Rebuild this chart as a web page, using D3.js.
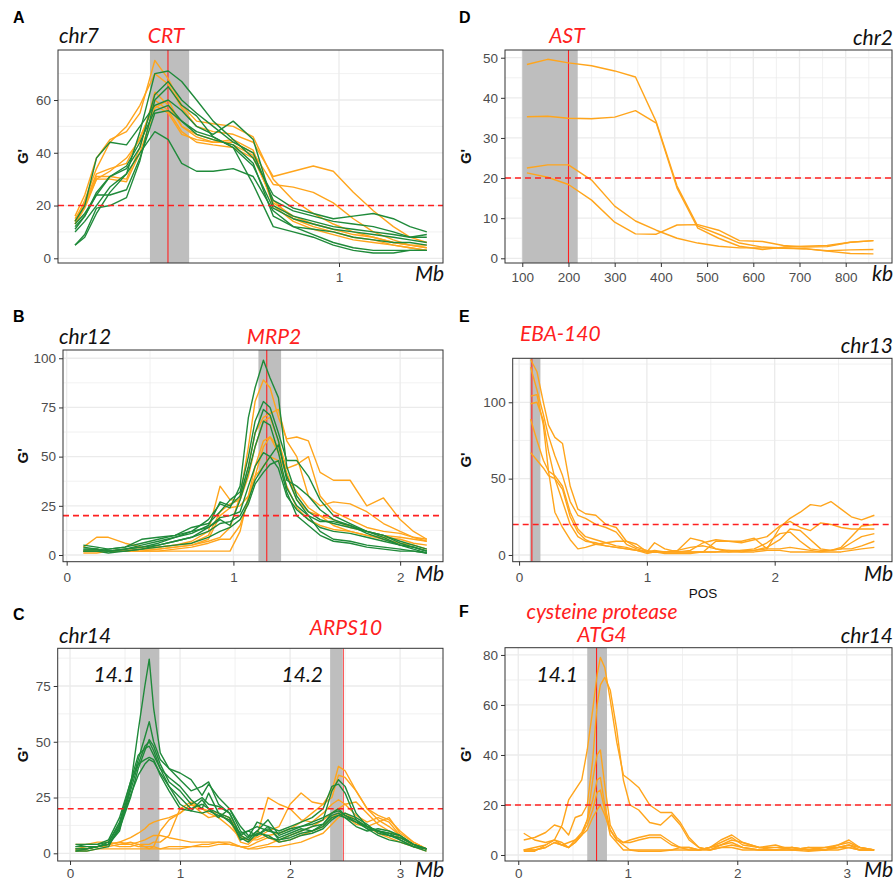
<!DOCTYPE html>
<html>
<head>
<meta charset="utf-8">
<script src="https://cdn.jsdelivr.net/npm/d3@7"></script>
<style>
body { margin: 0; background: #fff; }
.tick-lab { font-family: "Liberation Sans", Arial, sans-serif; font-size: 13.5px; fill: #4d4d4d; }
.ital { font-family: Lato, "Open Sans", sans-serif; font-style: italic; font-size: 21px; }
.letter { font-family: "Liberation Sans", Arial, sans-serif; font-weight: bold; font-size: 16px; }
.ytitle { font-family: "Liberation Sans", Arial, sans-serif; font-weight: bold; font-size: 15px; }
</style>
</head>
<body>
<script>
//---------------- data ----------------
// threshold of G'
var threshold = 20;

// A: chr7, CRT (positions in Mb)
var posA = [0.077, 0.111, 0.152, 0.199, 0.257, 0.304, 0.356, 0.403, 0.450, 0.502, 0.560, 0.630,
            0.700, 0.770, 0.840, 0.910, 0.980, 1.050, 1.120, 1.190, 1.248, 1.307];
var orangeA = [
    [16, 24, 38, 45, 48, 55, 75, 68, 58, 52, 51, 50, 46, 30, 22, 17, 13, 10, 8, 6, 5, 4],
    [14, 22, 34, 44, 50, 58, 70, 66, 57, 50, 48, 47, 44, 31, 33, 35, 33, 25, 18, 12, 8, 6],
    [14, 20, 31, 31, 30, 42, 63, 58, 50, 46, 44, 44, 40, 28, 27, 25, 21, 15, 10, 7, 5, 4],
    [13, 19, 30, 33, 38, 45, 60, 56, 48, 44, 43, 42, 38, 22, 15, 12, 10, 8, 7, 5, 4, 3],
    [15, 21, 32, 34, 36, 46, 58, 55, 47, 45, 44, 45, 41, 20, 14, 11, 9, 7, 6, 5, 4, 3],
    [13, 20, 30, 30, 29, 40, 57, 60, 50, 47, 45, 43, 39, 21, 16, 13, 11, 9, 8, 6, 5, 5]
];
var greenA = [
    [5, 8, 17, 25, 32, 48, 70, 71, 67, 60, 52, 45, 38, 24, 19, 17, 15, 16, 17, 15, 12, 10],
    [11, 16, 25, 31, 34, 42, 62, 67, 60, 55, 50, 44, 40, 22, 18, 16, 14, 13, 12, 10, 8, 8],
    [14, 20, 38, 44, 43, 50, 58, 60, 56, 50, 47, 52, 45, 20, 16, 14, 12, 11, 10, 9, 8, 9],
    [12, 16, 24, 24, 26, 38, 55, 56, 52, 47, 45, 43, 36, 16, 12, 11, 10, 8, 7, 6, 6, 5],
    [10, 14, 20, 27, 32, 40, 48, 45, 36, 33, 33, 34, 31, 18, 12, 9, 6, 4, 3, 3, 3, 3],
    [13, 17, 24, 31, 35, 44, 56, 58, 52, 48, 46, 42, 35, 19, 15, 13, 11, 10, 9, 8, 7, 6],
    [5, 9, 19, 20, 23, 37, 60, 65, 58, 54, 46, 42, 28, 12, 10, 8, 5, 3, 2, 2, 3, 3]
];
var xTicksA = [1], yTicksA = [0, 20, 40, 60];

// D: chr2, AST (positions in kb)
var posD = [110, 155, 200, 250, 300, 345, 390, 435, 480, 525, 570, 620, 665, 710, 760, 810, 860];
var orangeD = [
    [48.3, 49.6, 48.7, 48.0, 46.7, 45.2, 34.0, 18.0, 8.0, 6.0, 3.8, 2.8, 2.6, 2.4, 1.8, 1.2, 1.1],
    [35.3, 35.4, 34.9, 34.8, 35.2, 36.8, 33.7, 17.5, 7.5, 5.0, 3.0, 2.2, 2.8, 3.0, 3.2, 4.0, 4.4],
    [22.5, 23.3, 23.3, 19.5, 13.0, 9.3, 7.0, 5.0, 3.8, 3.0, 2.6, 2.6, 2.5, 2.4, 1.9, 2.1, 2.2],
    [21.3, 20.2, 18.4, 14.5, 9.0, 6.1, 6.0, 8.3, 8.4, 7.0, 4.4, 4.2, 3.2, 2.8, 2.9, 4.0, 4.4]
];
var xTicksD = [100, 200, 300, 400, 500, 600, 700, 800], yTicksD = [0, 10, 20, 30, 40, 50];

// B: chr12, MRP2 (Mb)
var posB = [0.10, 0.18, 0.25, 0.35, 0.45, 0.55, 0.65, 0.75, 0.85, 0.92, 0.98, 1.04, 1.09, 1.13,
            1.18, 1.22, 1.27, 1.32, 1.38, 1.45, 1.52, 1.60, 1.70, 1.80, 1.90, 2.00, 2.08, 2.16];
var orangeB = [
    [2, 3, 2, 2, 2, 3, 4, 5, 7, 9, 14, 30, 55, 78, 89, 85, 70, 59, 60, 58, 42, 38, 38, 25, 29, 18, 12, 8],
    [2, 2, 2, 3, 3, 4, 5, 6, 10, 22, 26, 28, 45, 62, 70, 72, 74, 58, 50, 30, 25, 27, 26, 22, 16, 12, 9, 7],
    [4, 9, 9, 6, 4, 4, 5, 7, 12, 35, 28, 28, 40, 55, 68, 70, 58, 44, 46, 50, 30, 22, 18, 14, 12, 11, 9, 8],
    [2, 2, 2, 2, 3, 3, 4, 5, 8, 20, 24, 25, 30, 40, 55, 60, 52, 40, 32, 24, 20, 18, 14, 12, 10, 9, 8, 7],
    [1, 1, 2, 2, 2, 2, 3, 4, 6, 8, 8, 15, 28, 40, 45, 50, 48, 35, 24, 18, 15, 13, 12, 10, 9, 8, 6, 5],
    [2, 2, 2, 2, 2, 2, 2, 2, 2, 2, 2, 12, 30, 45, 58, 60, 55, 42, 28, 22, 20, 15, 12, 10, 8, 6, 5, 3]
];
var greenB = [
    [3, 3, 2, 3, 4, 6, 9, 12, 18, 26, 24, 35, 70, 85, 99, 90, 80, 45, 30, 22, 18, 16, 14, 12, 10, 6, 4, 2],
    [5, 4, 3, 4, 6, 8, 10, 14, 16, 22, 28, 32, 50, 68, 78, 75, 62, 48, 48, 40, 28, 20, 16, 12, 9, 5, 3, 1],
    [4, 3, 2, 3, 5, 7, 9, 11, 15, 27, 25, 30, 45, 62, 74, 71, 58, 38, 35, 30, 23, 18, 15, 11, 8, 5, 4, 2],
    [2, 2, 2, 3, 4, 5, 7, 9, 14, 18, 15, 28, 42, 55, 68, 66, 52, 34, 25, 20, 17, 17, 15, 12, 10, 7, 5, 3],
    [2, 2, 3, 4, 8, 9, 10, 12, 14, 19, 20, 22, 35, 45, 52, 50, 44, 30, 23, 18, 14, 12, 11, 9, 7, 5, 4, 2],
    [3, 3, 2, 2, 3, 5, 7, 9, 12, 16, 17, 20, 28, 38, 45, 50, 56, 40, 28, 20, 12, 8, 7, 5, 4, 3, 2, 1],
    [2, 2, 1, 2, 3, 4, 5, 6, 9, 12, 14, 18, 26, 36, 42, 46, 48, 32, 20, 15, 10, 7, 6, 4, 3, 2, 2, 1]
];
var xTicksB = [0, 1, 2], yTicksB = [0, 25, 50, 75, 100];

// E: chr13, EBA-140 (Mb)
var posE = [0.09, 0.14, 0.19, 0.23, 0.28, 0.34, 0.40, 0.46, 0.52, 0.60, 0.68, 0.76, 0.84, 0.92,
            1.00, 1.06, 1.14, 1.24, 1.34, 1.44, 1.54, 1.64, 1.74, 1.84, 1.94, 2.04, 2.12, 2.20,
            2.28, 2.36, 2.44, 2.52, 2.60, 2.68, 2.78];
var orangeE = [
    [128, 120, 100, 85, 77, 73, 45, 30, 27, 26, 20, 18, 9, 5, 3, 2, 2, 2, 2, 2, 2, 3, 3, 3, 4, 18, 24, 28, 33, 32, 35, 30, 25, 23, 26],
    [123, 108, 92, 78, 65, 52, 35, 26, 24, 20, 18, 15, 7, 4, 2, 8, 4, 2, 3, 8, 10, 9, 8, 10, 12, 19, 22, 18, 16, 21, 20, 18, 17, 17, 17],
    [104, 105, 85, 55, 28, 18, 10, 4, 5, 7, 8, 9, 9, 7, 2, 3, 2, 3, 5, 6, 4, 3, 2, 3, 5, 10, 17, 16, 10, 4, 3, 5, 12, 19, 20],
    [99, 100, 88, 68, 50, 35, 20, 12, 9, 8, 6, 5, 4, 3, 2, 2, 2, 3, 11, 9, 4, 2, 3, 4, 8, 14, 15, 9, 4, 3, 3, 4, 8, 12, 14],
    [89, 75, 62, 55, 52, 45, 28, 17, 12, 10, 8, 6, 5, 3, 2, 2, 2, 2, 2, 2, 9, 9, 9, 11, 4, 4, 5, 4, 3, 2, 3, 4, 4, 6, 9],
    [67, 62, 57, 52, 50, 43, 25, 15, 10, 7, 6, 5, 4, 3, 1, 2, 1, 1, 1, 2, 2, 2, 2, 2, 3, 3, 2, 2, 2, 2, 2, 2, 3, 4, 5]
];
var xTicksE = [0, 1, 2], yTicksE = [0, 50, 100];

// C: chr14, ARPS10 (Mb)
var posC = [0.05, 0.15, 0.25, 0.35, 0.45, 0.55, 0.62, 0.68, 0.72, 0.76, 0.82, 0.90, 1.00, 1.10,
            1.20, 1.26, 1.35, 1.45, 1.55, 1.62, 1.70, 1.80, 1.90, 2.00, 2.10, 2.20, 2.30, 2.38,
            2.44, 2.50, 2.60, 2.70, 2.80, 2.90, 3.00, 3.12, 3.24];
var greenC = [
    [2, 2, 3, 4, 10, 30, 55, 75, 87, 65, 45, 38, 33, 28, 30, 32, 22, 18, 8, 10, 12, 10, 9, 11, 12, 13, 15, 28, 33, 30, 18, 12, 10, 8, 7, 4, 2],
    [4, 4, 4, 5, 13, 30, 42, 52, 59, 50, 42, 38, 36, 33, 26, 31, 25, 20, 10, 7, 14, 12, 10, 12, 14, 16, 20, 30, 31, 27, 15, 11, 10, 9, 8, 4, 2],
    [3, 3, 3, 4, 11, 25, 38, 46, 51, 48, 40, 32, 28, 22, 25, 22, 21, 18, 8, 6, 10, 15, 8, 10, 12, 14, 16, 18, 19, 17, 14, 12, 10, 9, 6, 3, 2],
    [1, 2, 3, 5, 14, 32, 44, 47, 48, 44, 38, 30, 25, 20, 22, 20, 16, 20, 12, 8, 8, 12, 6, 8, 10, 12, 13, 17, 18, 16, 12, 10, 11, 10, 8, 4, 2],
    [3, 4, 4, 6, 16, 32, 40, 42, 43, 42, 35, 28, 20, 19, 24, 20, 18, 14, 9, 10, 8, 11, 7, 9, 11, 10, 12, 16, 17, 18, 16, 13, 9, 8, 7, 4, 2],
    [1, 1, 2, 3, 12, 26, 35, 40, 42, 41, 36, 30, 22, 19, 18, 19, 17, 15, 7, 5, 9, 8, 5, 6, 8, 9, 11, 15, 17, 16, 14, 11, 8, 6, 5, 3, 1],
    [2, 2, 3, 4, 12, 28, 40, 48, 50, 46, 38, 34, 30, 24, 20, 27, 18, 16, 6, 7, 10, 7, 6, 7, 9, 10, 13, 18, 20, 17, 15, 12, 10, 8, 6, 3, 2]
];
var orangeC = [
    [2, 3, 3, 4, 5, 4, 3, 3, 2, 3, 10, 15, 18, 22, 18, 16, 17, 15, 5, 4, 8, 25, 22, 20, 15, 14, 18, 22, 24, 22, 17, 14, 16, 14, 8, 4, 2],
    [2, 2, 3, 4, 3, 3, 4, 4, 4, 5, 5, 8, 20, 23, 20, 19, 18, 16, 8, 6, 7, 10, 12, 22, 27, 23, 22, 28, 39, 37, 28, 20, 15, 12, 8, 3, 2],
    [1, 2, 3, 4, 5, 7, 9, 11, 13, 14, 15, 16, 18, 22, 20, 18, 16, 12, 7, 6, 6, 8, 9, 11, 14, 18, 22, 25, 35, 34, 28, 20, 17, 15, 10, 5, 2],
    [2, 2, 3, 3, 4, 5, 4, 3, 3, 3, 2, 3, 3, 3, 4, 4, 5, 5, 3, 2, 3, 4, 6, 8, 10, 12, 15, 18, 20, 22, 23, 18, 13, 10, 7, 4, 2],
    [4, 4, 5, 5, 4, 4, 5, 6, 7, 8, 8, 7, 6, 5, 5, 5, 5, 4, 3, 3, 5, 7, 5, 6, 8, 10, 12, 16, 18, 17, 13, 12, 14, 16, 9, 5, 2],
    [1, 1, 2, 2, 2, 2, 2, 2, 2, 2, 2, 2, 2, 3, 3, 3, 4, 4, 3, 2, 2, 3, 3, 4, 5, 7, 9, 13, 16, 18, 15, 12, 9, 7, 5, 3, 1]
];
var xTicksC = [0, 1, 2, 3], yTicksC = [0, 25, 50, 75];

// F: chr14, cysteine protease ATG4 (Mb)
var posF = [0.05, 0.15, 0.25, 0.33, 0.40, 0.46, 0.52, 0.58, 0.63, 0.68, 0.72, 0.75, 0.79, 0.84,
            0.90, 0.96, 1.02, 1.10, 1.20, 1.30, 1.40, 1.48, 1.56, 1.65, 1.75, 1.85, 1.95, 2.05,
            2.20, 2.35, 2.50, 2.65, 2.80, 2.92, 3.02, 3.12, 3.25];
var orangeF = [
    [2, 3, 4, 6, 12, 22, 26, 30, 42, 58, 72, 79, 75, 62, 45, 32, 30, 27, 20, 17, 17, 13, 7, 3, 2, 3, 4, 3, 2, 2, 3, 2, 2, 3, 3, 2, 2],
    [6, 7, 9, 12, 11, 8, 15, 16, 20, 38, 60, 68, 71, 66, 50, 30, 20, 18, 13, 12, 16, 12, 6, 3, 2, 4, 6, 5, 3, 2, 2, 3, 3, 3, 4, 2, 2],
    [2, 2, 3, 5, 4, 3, 5, 8, 14, 30, 40, 42, 28, 12, 7, 5, 6, 7, 8, 8, 5, 3, 3, 2, 3, 5, 7, 4, 3, 3, 3, 2, 3, 4, 5, 3, 2],
    [8.7, 6, 5, 6, 4, 3, 6, 9, 14, 22, 30, 31, 20, 10, 6, 5, 5, 6, 7, 7, 4, 3, 2, 2, 3, 6, 8, 5, 3, 4, 2, 3, 2, 4, 6, 3, 2],
    [1.5, 1.5, 4, 6, 5, 3, 5, 8, 12, 18, 25, 26, 18, 8, 5, 2, 2, 2, 2, 2, 2, 3, 3, 2, 3, 4, 5, 3, 2, 2, 3, 2, 2, 3, 4, 3, 2],
    [2, 2, 3, 5, 4, 5, 6, 8, 10, 15, 18, 20, 16, 10, 6, 4, 2, 1.5, 1.5, 1.5, 2, 2, 2, 2, 2, 3, 3, 2, 2, 2, 2, 1.5, 2, 2, 3, 2, 2]
];
var xTicksF = [0, 1, 2, 3], yTicksF = [0, 20, 40, 60, 80];

//---------------- layout ----------------
var ORANGE = "#FFA51C", GREEN = "#1F8A3A", RED = "#FF2020";

var panels = [
    {letter: "A", lx: 13, ly: 23, box: [58, 50, 443, 263], xd: [0.0175, 1.3636], yd: [-1.78, 78.96],
     pos: posA, orange: orangeA, green: greenA, xt: xTicksA, yt: yTicksA, xminor: [], yminor: [10, 30, 50, 70],
     bands: [[0.339, 0.476]], gene: 0.402, tickY: 282, unit: "Mb", unitY: 281, ytx: 23,
     labels: [{t: "chr7", x: 59, y: 43, a: "start", c: "#111"}, {t: "CRT", x: 166, y: 43, a: "middle", c: RED}]},
    {letter: "D", lx: 459, ly: 23, box: [505, 50, 892, 263], xd: [62.6, 900.2], yd: [-1.17, 51.92],
     pos: posD, orange: orangeD, green: [], xt: xTicksD, yt: yTicksD, xminor: [150, 250, 350, 450, 550, 650, 750, 850],
     yminor: [5, 15, 25, 35, 45], bands: [[100, 220]], gene: 200, tickY: 282, unit: "kb", unitY: 281, ytx: 466,
     labels: [{t: "AST", x: 567, y: 43, a: "middle", c: RED}, {t: "chr2", x: 893, y: 45, a: "end", c: "#111"}]},
    {letter: "B", lx: 13, ly: 322, box: [63, 350, 443, 561.7], xd: [-0.022, 2.257], yd: [-3.4, 104.2],
     pos: posB, orange: orangeB, green: greenB, xt: xTicksB, yt: yTicksB, xminor: [0.5, 1.5],
     yminor: [12.5, 37.5, 62.5, 87.5], bands: [[1.15, 1.286]], gene: 1.2, tickY: 582, unit: "Mb", unitY: 581, ytx: 23,
     labels: [{t: "chr12", x: 59, y: 344, a: "start", c: "#111"}, {t: "MRP2", x: 274, y: 344, a: "middle", c: RED}]},
    {letter: "E", lx: 459, ly: 322, box: [512.7, 358.3, 892, 561.7], xd: [-0.05, 2.918], yd: [-4.4, 128.8],
     pos: posE, orange: orangeE, green: [], xt: xTicksE, yt: yTicksE, xminor: [0.5, 1.5, 2.5],
     yminor: [25, 75, 125], bands: [[0.084, 0.167]], gene: 0.1, tickY: 582, unit: "Mb", unitY: 581, ytx: 466,
     labels: [{t: "EBA-140", x: 520, y: 341, a: "start", c: RED}, {t: "chr13", x: 893, y: 353, a: "end", c: "#111"}]},
    {letter: "C", lx: 13, ly: 620, box: [57.7, 648.3, 443, 861], xd: [-0.112, 3.39], yd: [-3.45, 91.9],
     pos: posC, orange: orangeC, green: greenC, xt: xTicksC, yt: yTicksC, xminor: [0.5, 1.5, 2.5],
     yminor: [12.5, 37.5, 62.5, 87.5], bands: [[0.636, 0.812], [2.364, 2.479]], gene: 2.485, geneThin: true,
     tickY: 878, unit: "Mb", unitY: 877, ytx: 23,
     labels: [{t: "chr14", x: 59, y: 643, a: "start", c: "#111"}, {t: "ARPS10", x: 346, y: 635, a: "middle", c: RED},
              {t: "14.1", x: 135, y: 682, a: "end", c: "#111"}, {t: "14.2", x: 323, y: 682, a: "end", c: "#111"}]},
    {letter: "F", lx: 459, ly: 617, box: [505, 647.7, 892, 861], xd: [-0.121, 3.413], yd: [-2.4, 82.9],
     pos: posF, orange: orangeF, green: [], xt: xTicksF, yt: yTicksF, xminor: [0.5, 1.5, 2.5],
     yminor: [10, 30, 50, 70], bands: [[0.63, 0.81]], gene: 0.715, tickY: 878, unit: "Mb", unitY: 877, ytx: 466,
     labels: [{t: "cysteine protease", x: 602, y: 619, a: "middle", c: RED}, {t: "ATG4", x: 602, y: 642, a: "middle", c: RED},
              {t: "chr14", x: 893, y: 643, a: "end", c: "#111"}, {t: "14.1", x: 578, y: 682, a: "end", c: "#111"}]}
];

var svg = d3.select("body").append("svg")
    .attr("width", 896)
    .attr("height", 880);

panels.forEach(drawPanel);

// axis title below panel E
svg.append("text")
    .attr("x", 703).attr("y", 598)
    .attr("text-anchor", "middle")
    .style("font-family", "Liberation Sans, Arial, sans-serif")
    .style("font-size", "13.5px")
    .attr("fill", "#111")
    .text("POS");

function drawPanel(p, k){
    var L = p.box[0], T = p.box[1], R = p.box[2], B = p.box[3];
    var x = d3.scaleLinear().domain(p.xd).range([L, R]);
    var y = d3.scaleLinear().domain(p.yd).range([B, T]);
    var g = svg.append("g").attr("class", "panel-" + p.letter);

    // clip path for the plot area
    svg.append("clipPath").attr("id", "clip" + k)
        .append("rect").attr("x", L).attr("y", T).attr("width", R - L).attr("height", B - T);

    g.append("rect").attr("x", L).attr("y", T).attr("width", R - L).attr("height", B - T).attr("fill", "#fff");

    //grid lines, minor then major
    g.selectAll(".yminor").data(p.yminor).enter().append("line")
        .attr("x1", L).attr("x2", R).attr("y1", d => y(d)).attr("y2", d => y(d))
        .attr("stroke", "#EBEBEB").attr("stroke-width", 0.7);
    g.selectAll(".xminor").data(p.xminor).enter().append("line")
        .attr("y1", T).attr("y2", B).attr("x1", d => x(d)).attr("x2", d => x(d))
        .attr("stroke", "#EBEBEB").attr("stroke-width", 0.7);
    g.selectAll(".ymajor").data(p.yt).enter().append("line")
        .attr("x1", L).attr("x2", R).attr("y1", d => y(d)).attr("y2", d => y(d))
        .attr("stroke", "#EBEBEB").attr("stroke-width", 1.3);
    g.selectAll(".xmajor").data(p.xt).enter().append("line")
        .attr("y1", T).attr("y2", B).attr("x1", d => x(d)).attr("x2", d => x(d))
        .attr("stroke", "#EBEBEB").attr("stroke-width", 1.3);

    var inner = g.append("g").attr("clip-path", "url(#clip" + k + ")");

    //grey candidate regions
    inner.selectAll(".band").data(p.bands).enter().append("rect")
        .attr("x", d => x(d[0])).attr("width", d => x(d[1]) - x(d[0]))
        .attr("y", T).attr("height", B - T)
        .attr("fill", "#BEBEBE");

    //gene position
    inner.append("line")
        .attr("x1", x(p.gene)).attr("x2", x(p.gene)).attr("y1", T).attr("y2", B)
        .attr("stroke", RED).attr("stroke-width", p.geneThin ? 0.8 : 1.1);

    var line = d3.line()
        .x((d, i) => x(p.pos[i]))
        .y(d => y(d));

    inner.selectAll(".orange").data(p.orange).enter().append("path")
        .attr("d", line).attr("fill", "none")
        .attr("stroke", ORANGE).attr("stroke-width", 1.4).attr("stroke-linejoin", "round");
    inner.selectAll(".green").data(p.green).enter().append("path")
        .attr("d", line).attr("fill", "none")
        .attr("stroke", GREEN).attr("stroke-width", 1.4).attr("stroke-linejoin", "round");

    //threshold
    inner.append("line")
        .attr("x1", L).attr("x2", R).attr("y1", y(threshold)).attr("y2", y(threshold))
        .attr("stroke", RED).attr("stroke-width", 1.6).attr("stroke-dasharray", "6,4");

    //frame
    g.append("rect").attr("x", L).attr("y", T).attr("width", R - L).attr("height", B - T)
        .attr("fill", "none").attr("stroke", "#333").attr("stroke-width", 1);

    //y axis
    var yAxis = d3.axisLeft(y).tickValues(p.yt).tickSize(4).tickPadding(3);
    var ya = g.append("g").attr("transform", "translate(" + L + ",0)").call(yAxis);
    ya.select(".domain").remove();
    ya.selectAll(".tick line").attr("stroke", "#333");
    ya.selectAll(".tick text").attr("class", "tick-lab").attr("fill", null);

    //x axis
    var xAxis = d3.axisBottom(x).tickValues(p.xt).tickSize(4).tickFormat(d3.format("d"));
    var xa = g.append("g").attr("transform", "translate(0," + B + ")").call(xAxis);
    xa.select(".domain").remove();
    xa.selectAll(".tick line").attr("stroke", "#333");
    xa.selectAll(".tick text").attr("class", "tick-lab").attr("fill", null)
        .attr("dy", null).attr("y", p.tickY - B);

    //unit label
    g.append("text").attr("class", "ital")
        .attr("x", R + 1).attr("y", p.unitY).attr("text-anchor", "end")
        .attr("fill", "#111").text(p.unit);

    //y title
    g.append("text").attr("class", "ytitle")
        .attr("transform", "translate(" + (p.ytx + 5) + "," + ((T + B) / 2) + ") rotate(-90)")
        .attr("text-anchor", "middle").attr("fill", "#111")
        .text("G'");

    //panel letter and labels
    g.append("text").attr("class", "letter")
        .attr("x", p.lx).attr("y", p.ly).attr("fill", "#000").text(p.letter);
    g.selectAll(".lab").data(p.labels).enter().append("text")
        .attr("class", "ital")
        .attr("x", d => d.x).attr("y", d => d.y)
        .attr("text-anchor", d => d.a).attr("fill", d => d.c)
        .text(d => d.t);
}
</script>
</body>
</html>
